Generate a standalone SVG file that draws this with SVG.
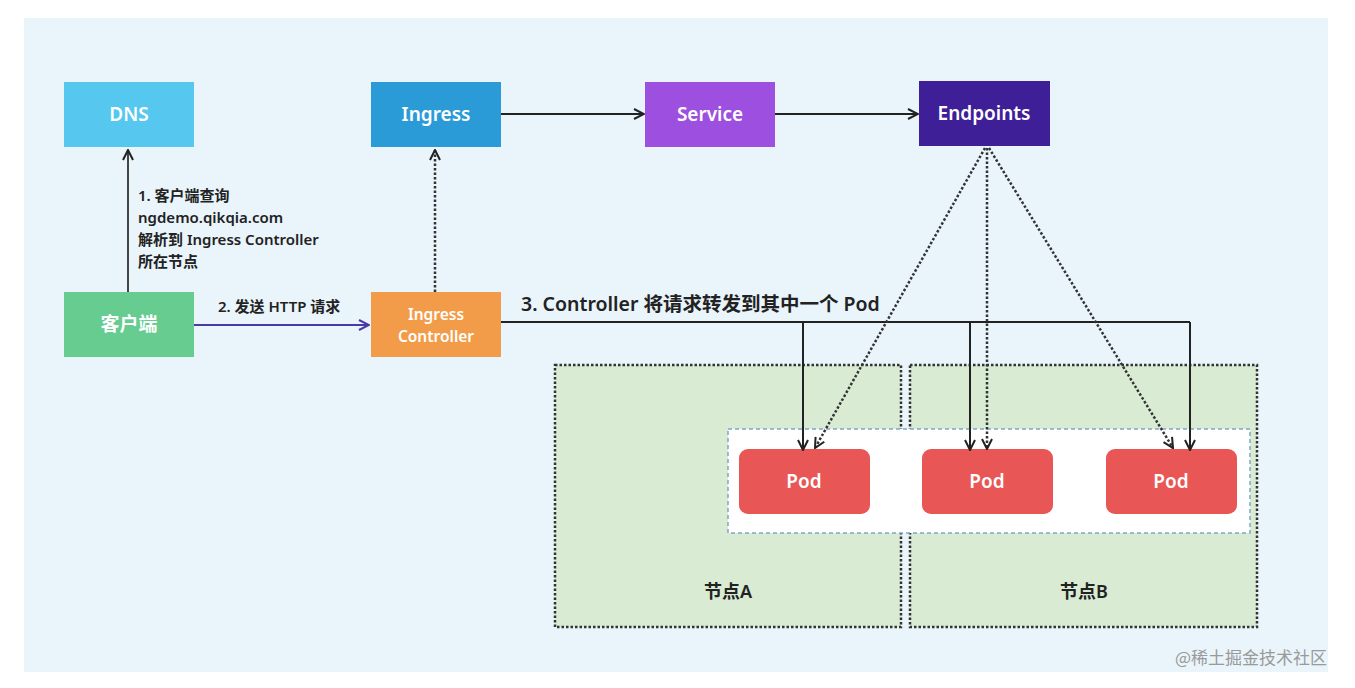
<svg xmlns="http://www.w3.org/2000/svg" width="1355" height="688" viewBox="0 0 1355 688">
<defs>
<style>
.nt{font-family:"Noto Sans","Noto Sans CJK SC",sans-serif;font-size:19px;font-weight:600;fill:#fff;text-anchor:middle}
.lb{font-family:"Noto Sans","Noto Sans CJK SC",sans-serif;font-size:15px;font-weight:600;fill:#222}
.ln{fill:none;stroke:#222;stroke-width:2}
.dt{fill:none;stroke:#333;stroke-width:2.5;stroke-dasharray:2.5 2}
.pod{fill:#e85656}
</style>
<marker id="ar" viewBox="0 0 12 12" refX="11" refY="6" markerWidth="12" markerHeight="12" markerUnits="userSpaceOnUse" orient="auto">
<path d="M1,1 L11,6 L1,11" fill="none" stroke="#222" stroke-width="2"/>
</marker>
<marker id="arp" viewBox="0 0 12 12" refX="11" refY="6" markerWidth="12" markerHeight="12" markerUnits="userSpaceOnUse" orient="auto">
<path d="M1,1 L11,6 L1,11" fill="none" stroke="#4a3aa8" stroke-width="2"/>
</marker>
</defs>
<rect width="1355" height="688" fill="#fff"/>
<rect x="24" y="18" width="1304" height="654" fill="#e9f4fb"/>

<g id="nodeA">
<rect x="555" y="365" width="346" height="262" fill="#d9ebd3" stroke="#333" stroke-width="2.5" stroke-dasharray="2.5 2"/>
<text class="lb" x="728" y="598" text-anchor="middle" style="font-size:18px">节点A</text>
</g>
<g id="nodeB">
<rect x="910" y="365" width="347" height="262" fill="#d9ebd3" stroke="#333" stroke-width="2.5" stroke-dasharray="2.5 2"/>
<text class="lb" x="1084" y="598" text-anchor="middle" style="font-size:18px">节点B</text>
</g>
<g id="podgroup">
<rect x="728" y="429" width="522" height="104" fill="#fff" stroke="#7fa6c6" stroke-width="1.5" stroke-dasharray="4 3"/>
</g>
<g id="pod1"><rect class="pod" x="739" y="449" width="131" height="65" rx="9"/><text class="nt" x="804" y="488">Pod</text></g>
<g id="pod2"><rect class="pod" x="922" y="449" width="131" height="65" rx="9"/><text class="nt" x="987" y="488">Pod</text></g>
<g id="pod3"><rect class="pod" x="1106" y="449" width="131" height="65" rx="9"/><text class="nt" x="1171" y="488">Pod</text></g>

<g id="dns"><rect x="64" y="82" width="130" height="65" fill="#56c7ef"/><text class="nt" x="129" y="121">DNS</text></g>
<g id="ingress"><rect x="371" y="82" width="130" height="65" fill="#2b9bd7"/><text class="nt" x="436" y="121">Ingress</text></g>
<g id="service"><rect x="645" y="82" width="130" height="65" fill="#9d4fe0"/><text class="nt" x="710" y="121">Service</text></g>
<g id="endpoints"><rect x="919" y="81" width="131" height="65" fill="#3f1f97"/><text class="nt" x="984" y="120">Endpoints</text></g>
<g id="client"><rect x="64" y="292" width="130" height="65" fill="#66cc90"/><text class="nt" x="129" y="331">客户端</text></g>
<g id="controller"><rect x="371" y="292" width="130" height="65" fill="#f29c49"/><text class="nt" x="436" y="320" style="font-size:15.5px">Ingress</text><text class="nt" x="436" y="342" style="font-size:15.5px">Controller</text></g>

<g id="connectors">
<line class="ln" x1="128" y1="292" x2="128" y2="150" marker-end="url(#ar)" style="stroke:#444"/>
<line x1="194" y1="325" x2="369" y2="325" stroke="#4a3aa8" stroke-width="2" marker-end="url(#arp)"/>
<line class="dt" x1="435" y1="292" x2="435" y2="150" marker-end="url(#ar)"/>
<line class="ln" x1="501" y1="114" x2="644" y2="114" marker-end="url(#ar)"/>
<line class="ln" x1="775" y1="114" x2="918" y2="114" marker-end="url(#ar)"/>
<polyline class="ln" points="501,322 1190,322"/>
<line class="ln" x1="803" y1="322" x2="803" y2="450" marker-end="url(#ar)"/>
<line class="ln" x1="970" y1="322" x2="970" y2="450" marker-end="url(#ar)"/>
<line class="ln" x1="1190" y1="322" x2="1190" y2="450" marker-end="url(#ar)"/>
<line class="dt" x1="985" y1="148" x2="815" y2="448" marker-end="url(#ar)"/>
<line class="dt" x1="987" y1="148" x2="987" y2="449" marker-end="url(#ar)"/>
<line class="dt" x1="989" y1="148" x2="1173" y2="448" marker-end="url(#ar)"/>
<text class="lb" x="138" y="201">1. 客户端查询</text>
<text class="lb" x="138" y="223">ngdemo.qikqia.com</text>
<text class="lb" x="138" y="245">解析到 Ingress Controller</text>
<text class="lb" x="138" y="267">所在节点</text>
<text class="lb" x="218" y="312">2. 发送 HTTP 请求</text>
<text class="lb" x="521" y="311" style="font-size:19.5px">3. Controller 将请求转发到其中一个 Pod</text>
</g>
<text x="1175" y="664" style="font-family:'Noto Sans CJK SC',sans-serif;font-size:17px;fill:#9a9a9a">@稀土掘金技术社区</text>
</svg>
